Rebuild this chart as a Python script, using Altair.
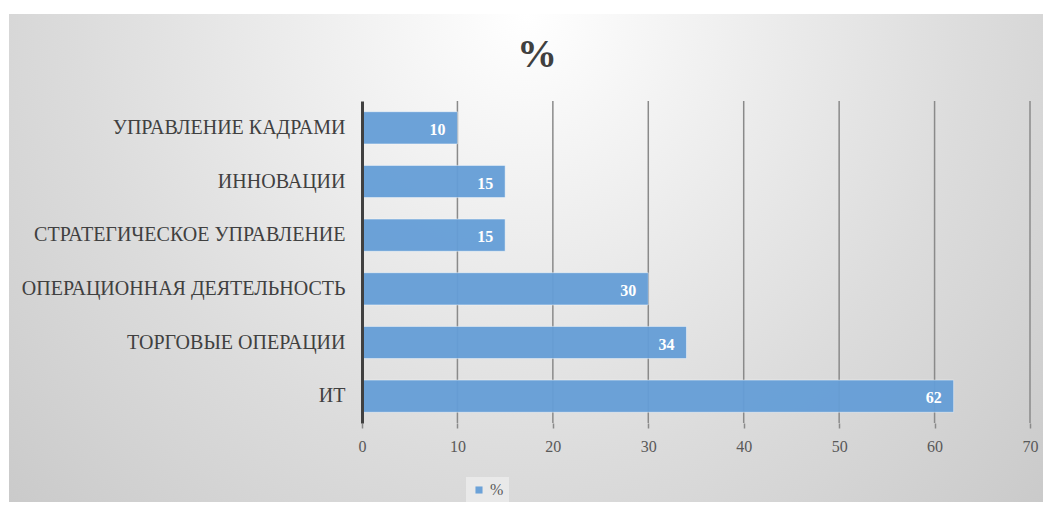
import altair as alt
import pandas as pd

categories = ["УПРАВЛЕНИЕ  КАДРАМИ", "ИННОВАЦИИ ", "СТРАТЕГИЧЕСКОЕ УПРАВЛЕНИЕ ",
              "ОПЕРАЦИОННАЯ ДЕЯТЕЛЬНОСТЬ", "ТОРГОВЫЕ ОПЕРАЦИИ ", "ИТ"]
values = [10, 15, 15, 30, 34, 62]
series_name = "%"
x_ticks = [0, 10, 20, 30, 40, 50, 60, 70]
title_text = ["%"]

W, H = 668, 322
PAD = {"left": 354, "top": 93, "right": 13, "bottom": 79}
SERIF = "'Liberation Serif', 'DejaVu Serif', serif"
BAR = "#659ed7"

df = pd.DataFrame({"cat": categories, "val": values, "series": [series_name] * len(values)})
grid_df = pd.DataFrame({"g": x_ticks[1:]})
bg_df = pd.DataFrame({"k": [0]})
title_df = pd.DataFrame({"t": title_text})

xscale = alt.Scale(domain=[0, 70], nice=False, zero=True)
yscale = alt.Scale(paddingInner=0.4, paddingOuter=0.2)

bg = alt.Chart(bg_df).mark_rect(
    clip=False,
    fill=alt.Gradient(
        gradient="radial", x1=0.5, y1=0.0, r1=0.0, x2=0.5, y2=0.0, r2=1.0,
        stops=[alt.GradientStop(color="#ffffff", offset=0.0),
               alt.GradientStop(color="#dcdcdc", offset=0.3),
               alt.GradientStop(color="#c8c8c8", offset=0.5),
               alt.GradientStop(color="#bdbdbd", offset=0.7),
               alt.GradientStop(color="#bdbdbd", offset=1.0)],
    ),
).encode(
    x=alt.value(-PAD["left"] + 1), x2=alt.value(W + PAD["right"]),
    y=alt.value(-PAD["top"] + 6), y2=alt.value(1400),
)

grid = alt.Chart(grid_df).mark_rule(color="#8a8a8a", strokeWidth=1.5).encode(
    x=alt.X("g:Q", scale=xscale, title=None),
    y=alt.value(0), y2=alt.value(H),
)

y_enc = alt.Y("cat:N", sort=categories, scale=yscale,
              axis=alt.Axis(title=None, ticks=False, labelPadding=17, labelFont=SERIF,
                            labelFontSize=20, labelColor="#404040", domainColor="#404040",
                            domainWidth=3, zindex=1, labelLimit=400))

bars = alt.Chart(df).mark_bar(opacity=0.95, stroke="#ffffff", strokeWidth=0.8, strokeOpacity=0.6).encode(
    y=y_enc,
    x=alt.X("val:Q", scale=xscale,
            axis=alt.Axis(values=x_ticks, grid=False, domain=False, tickSize=5,
                          tickColor="#8a8a8a", tickWidth=1.5, labelFont=SERIF,
                          labelFontSize=16, labelColor="#595959", labelPadding=10,
                          labelFlush=False, title=None, zindex=1)),
    color=alt.Color("series:N", scale=alt.Scale(range=[BAR]),
                    legend=alt.Legend(title=None, orient="none", legendX=104, legendY=376,
                                      symbolType="square", symbolSize=50, symbolStrokeWidth=0,
                                      labelFont=SERIF, labelFontSize=16, labelColor="#595959",
                                      padding=5, labelOffset=3, fillColor="#e9e9e9")),
)

labels = alt.Chart(df).mark_text(align="right", baseline="middle", dx=-12, dy=2, font=SERIF,
                                 fontSize=16, fontWeight="bold", color="white").encode(
    y=alt.Y("cat:N", sort=categories, scale=yscale),
    x=alt.X("val:Q", scale=xscale),
    text="val:Q",
)

title = alt.Chart(title_df).mark_text(align="center", baseline="alphabetic", font=SERIF,
                                      fontSize=40, fontWeight="bold", color="#404040").encode(
    text="t:N", x=alt.value(175), y=alt.value(-34),
)

chart = alt.layer(bg, grid, bars, labels, title).properties(
    width=W, height=H, padding=PAD,
    autosize=alt.AutoSizeParams(type="none"),
    background="white",
).configure_view(stroke=None)

chart.save("out.html", embed_options={"renderer": "svg", "actions": False})
